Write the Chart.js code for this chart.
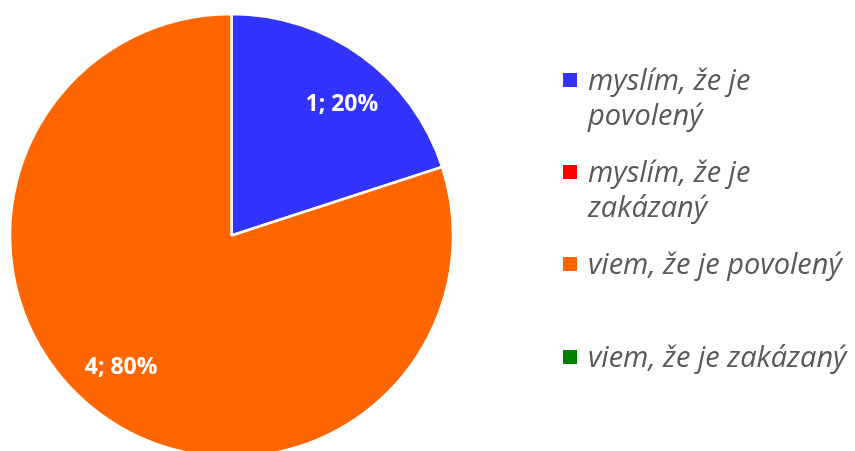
<!DOCTYPE html>
<html>
<head>
<meta charset="utf-8">
<script src="https://cdn.jsdelivr.net/npm/chart.js@4.4.0/dist/chart.umd.min.js"></script>
<style>
  html, body { margin: 0; padding: 0; background: #fff; overflow: hidden; }
  #wrap { position: relative; width: 855px; height: 451px; overflow: hidden; }
  #chart { position: absolute; left: 0; top: 0; }
  #legend { position: absolute; left: 563px; top: 61px; width: 300px; }
  .item { position: absolute; left: 0; width: 300px; }
  .box { position: absolute; left: 0; width: 14px; height: 14px; }
  .txt { position: absolute; left: 25px; width: 268px; font-family: "Open Sans", sans-serif; font-style: italic;
         font-size: 29px; line-height: 35px; color: #595959; }
</style>
</head>
<body>
<div id="wrap">
  <canvas id="chart" width="855" height="451"></canvas>
  <div id="legend"></div>
</div>
<script>
const categories = ["myslím, že je povolený", "myslím, že je zakázaný", "viem, že je povolený", "viem, že je zakázaný"];
const values = [1, 0, 4, 0];
const colors = ["#3333FF", "#FF0000", "#FF6600", "#008000"];

const total = values.reduce((a, b) => a + b, 0);

const labelPlugin = {
  id: 'sliceLabels',
  afterDatasetsDraw(chart) {
    const ctx = chart.ctx;
    const meta = chart.getDatasetMeta(0);
    ctx.save();
    ctx.font = 'bold 23px "Open Sans", sans-serif';
    ctx.fillStyle = '#ffffff';
    ctx.textAlign = 'center';
    ctx.textBaseline = 'middle';
    meta.data.forEach((arc, i) => {
      const v = values[i];
      if (!v) return;
      const p = arc.getProps(['x', 'y', 'startAngle', 'endAngle', 'outerRadius']);
      const mid = (p.startAngle + p.endAngle) / 2 + 0.07;
      const r = p.outerRadius * 0.775;
      const pct = Math.round(v / total * 100);
      ctx.fillText(v + '; ' + pct + '%', p.x + Math.cos(mid) * r, p.y + Math.sin(mid) * r);
    });
    ctx.restore();
  }
};

new Chart(document.getElementById('chart'), {
  type: 'pie',
  data: {
    labels: categories,
    datasets: [{
      data: values,
      backgroundColor: colors,
      borderColor: '#ffffff',
      borderWidth: 2.5,
      radius: 221.5
    }]
  },
  options: {
    responsive: false,
    animation: false,
    layout: { padding: { left: 0, right: 392, top: 20, bottom: 0 } },
    plugins: {
      legend: { display: false },
      tooltip: { enabled: false }
    }
  },
  plugins: [labelPlugin]
});

// HTML legend built from the same arrays
const legend = document.getElementById('legend');
const itemTops = [0, 92, 184, 277];
categories.forEach((c, i) => {
  const it = document.createElement('div');
  it.className = 'item';
  it.style.top = itemTops[i] + 'px';
  const b = document.createElement('div');
  b.className = 'box';
  b.style.background = colors[i];
  b.style.top = '12px';
  const t = document.createElement('div');
  t.className = 'txt';
  t.style.top = '0px';
  t.textContent = c;
  it.appendChild(b);
  it.appendChild(t);
  legend.appendChild(it);
});
</script>
</body>
</html>
